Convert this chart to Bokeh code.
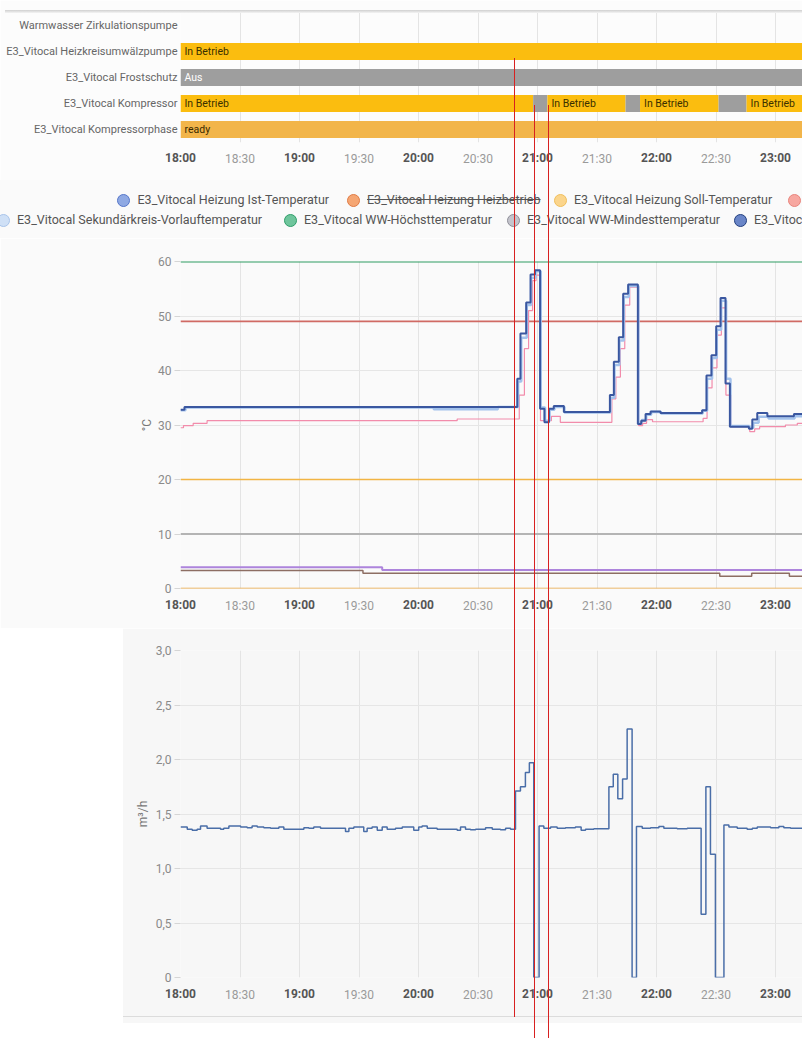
from bokeh.plotting import figure
from bokeh.layouts import column
from bokeh.models import (Range1d, LinearAxis, FixedTicker, Grid, ColumnDataSource, Div)
from bokeh.core.properties import value
from bokeh.embed import file_html
from bokeh.resources import INLINE

FONT = "Roboto"
K = 30 / 59.5          # minutes per pixel on the shared time scale
X_END = 622 * K        # right edge of the visible window (minutes after 18:00)
FRAME_LEFT = 180       # pixel where 18:00 sits

# ---------------- time axis (minutes after 18:00) ----------------
hour_ticks = [0, 60, 120, 180, 240, 300]
hour_labels = ["18:00", "19:00", "20:00", "21:00", "22:00", "23:00"]
half_ticks = [30, 90, 150, 210, 270]
half_labels = ["18:30", "19:30", "20:30", "21:30", "22:30"]

# ---------------- state timeline ----------------
state_rows = ["Warmwasser Zirkulationspumpe", "E3_Vitocal Heizkreisumwälzpumpe",
              "E3_Vitocal Frostschutz", "E3_Vitocal Kompressor", "E3_Vitocal Kompressorphase"]
seg_row = [1, 2, 3, 3, 3, 3, 3, 3, 3, 4]
seg_start = [0, 0, 0, 177.8, 185.0, 224.4, 231.7, 271.3, 285.4, 0]
seg_end = [330, 330, 177.8, 185.0, 224.4, 231.7, 271.3, 285.4, 330, 330]
seg_state = ["In Betrieb", "Aus", "In Betrieb", "Aus", "In Betrieb", "Aus",
             "In Betrieb", "Aus", "In Betrieb", "ready"]
state_color = {"In Betrieb": "#fbbd0f", "Aus": "#9e9e9e", "ready": "#f2b54a"}
state_text = {"In Betrieb": "#3a3000", "Aus": "#ffffff", "ready": "#3a2a00"}

# ---------------- temperatures (°C) ----------------
vl_t = [0, 2, 169.8, 171.4, 174.3, 176.5, 178.7, 181.3, 183.5, 185.8,
        188.2, 193.3, 216.5, 218.5, 221.0, 223.2, 225.7, 230.6, 232.3, 234.5,
        237.0, 242.0, 263.0, 265.2, 267.7, 270.1, 272.3, 274.8, 277.0, 286.6,
        288.3, 290.8, 295.9, 309.3, 314]
vl_v = [32.8, 33.3, 38.5, 46.8, 52.5, 57.6, 58.4, 33.0, 30.5, 33.0,
        33.5, 32.4, 35.5, 41.6, 46.1, 54.1, 55.8, 30.2, 30.8, 32.0,
        32.5, 32.2, 32.7, 39.1, 42.8, 48.1, 53.3, 37.6, 29.7, 29.3,
        31.0, 32.2, 31.6, 32.0, 32.0]
sek_t = [0, 2.5, 127.7, 160.0, 170.2, 171.8, 174.6, 176.8, 179.0, 181.6,
         183.8, 186.1, 188.5, 193.6, 216.8, 218.8, 221.3, 223.5, 226.0, 230.9,
         232.6, 234.8, 237.3, 242.3, 263.3, 265.5, 268.0, 270.4, 272.6, 275.1,
         277.3, 286.9, 288.8, 291.5, 296.5, 309.6, 314]
sek_v = [32.7, 33.2, 32.9, 33.3, 38.0, 46.0, 52.0, 57.0, 58.2, 33.2,
         30.8, 32.8, 33.3, 32.3, 35.0, 41.0, 45.5, 53.5, 55.5, 30.4,
         30.9, 31.9, 32.4, 32.1, 32.6, 38.5, 42.3, 47.5, 52.8, 38.5,
         29.8, 29.5, 30.4, 31.5, 31.2, 31.6, 31.6]
pink_t = [0, 1.5, 6.4, 13.4, 139.5, 170.8, 173.4, 175.5, 177.5, 179.3,
          181.5, 187.0, 191.5, 217.5, 219.5, 221.8, 224.0, 226.5, 231.0, 233.0,
          235.0, 238.0, 263.5, 265.5, 268.0, 270.5, 272.7, 275.0, 277.5, 287.0,
          289.5, 292.0, 305.0, 311.0, 314]
pink_v = [29.5, 29.9, 30.3, 30.8, 31.1, 35.5, 44.0, 51.0, 56.5, 57.5,
          30.8, 31.6, 30.5, 34.8, 38.8, 44.0, 52.0, 55.3, 29.9, 30.3,
          31.0, 30.6, 31.2, 36.8, 40.5, 46.5, 51.5, 35.5, 29.7, 28.8,
          29.3, 29.7, 30.0, 30.3, 30.3]
const_t = [0, 314]
ww_max_v = [60, 60]
red_v = [49, 49]
soll_v = [20, 20]
ww_min_v = [10, 10]
zero_v = [0, 0]
purple_t = [0, 101.7, 314]
purple_v = [3.9, 3.4, 3.4]
brown_t = [0, 92, 271.9, 288, 307, 314]
brown_v = [3.3, 2.8, 2.26, 2.8, 2.26, 2.26]
temp_ticks = [0, 10, 20, 30, 40, 50, 60]

# ---------------- flow (m³/h) ----------------
flow_t = [0, 3.4, 5.9, 8.4, 10.1, 13.4, 20.2, 21.8, 24.4, 30.3,
          33.6, 36.1, 38.7, 42.0, 45.4, 49.6, 52.1, 62.2, 64.7, 67.2,
          70.6, 83.2, 84.9, 87.4, 92.4, 94.1, 96.6, 99.2, 101.7, 104.2,
          108.4, 111.8, 117.6, 120.1, 121.8, 124.4, 129.4, 134.4, 139.5, 141.2,
          143.7, 146.2, 148.8, 153.8, 157.2, 161.3, 163.9, 166.4, 168.9, 171.4,
          173.9, 175.9, 178.1, 180.8, 183.2, 186.6, 189.9, 194.1, 199.1, 202.0,
          204.2, 208.4, 216.0, 218.2, 220.5, 222.9, 225.2, 227.7, 229.9, 232.8,
          237.0, 241.2, 243.7, 250.4, 255.5, 262.5, 264.9, 267.2, 269.7, 274.0,
          276.5, 280.7, 285.7, 288.3, 290.8, 297.5, 301.7, 304.2, 307.6, 314]
flow_v = [1.38, 1.36, 1.35, 1.36, 1.39, 1.37, 1.36, 1.37, 1.39, 1.38,
          1.375, 1.39, 1.38, 1.375, 1.37, 1.38, 1.36, 1.375, 1.37, 1.38,
          1.37, 1.34, 1.37, 1.38, 1.34, 1.37, 1.38, 1.35, 1.38, 1.36,
          1.37, 1.38, 1.35, 1.38, 1.39, 1.37, 1.36, 1.36, 1.35, 1.38,
          1.36, 1.355, 1.36, 1.375, 1.36, 1.355, 1.37, 1.36, 1.71, 1.75,
          1.88, 1.97, 0.0, 1.39, 1.37, 1.38, 1.37, 1.375, 1.38, 1.35,
          1.36, 1.365, 1.75, 1.865, 1.64, 1.82, 2.28, 0.0, 1.385, 1.37,
          1.375, 1.385, 1.37, 1.365, 1.37, 0.58, 1.75, 1.13, 0.0, 1.40,
          1.38, 1.37, 1.36, 1.37, 1.38, 1.375, 1.385, 1.375, 1.37, 1.37]
flow_ticks = [0, 0.5, 1.0, 1.5, 2.0, 2.5, 3.0]
flow_tick_labels = ["0", "0,5", "1,0", "1,5", "2,0", "2,5", "3,0"]

# ---------------- legend ----------------
leg_names = ["E3_Vitocal Heizung Ist-Temperatur", "E3_Vitocal Heizung Heizbetrieb",
             "E3_Vitocal Heizung Soll-Temperatur", "",
             "E3_Vitocal Sekundärkreis-Vorlauftemperatur", "E3_Vitocal WW-Höchsttemperatur",
             "E3_Vitocal WW-Mindesttemperatur", "E3_Vitoc"]
leg_fill = ["#8fa9e3", "#f5a673", "#fbd58c", "#f7a7a0", "#cfe0f6", "#6fc59c", "#c4c4cc", "#6a86c8"]
leg_line = ["#5676c9", "#e07b45", "#f0bf5c", "#e8847c", "#a9c4ea", "#2f9e69", "#8e8e98", "#23407f"]
leg_hidden = [False, True, False, False, False, False, False, False]

# red marker lines drawn onto the screenshot (minutes after 18:00, page-y extent)
marker_t = [168.4, 178.7, 185.5]
marker_y0 = [58, 105, 105]
marker_y1 = [1017, 1038, 1038]

RED = "#d82020"
BG = "#fafafa"


def base_fig(height, top, bottom, y_range, bg=BG):
    p = figure(width=802, height=height, x_range=Range1d(0, X_END), y_range=y_range,
               output_backend="svg", toolbar_location=None,
               x_axis_type=None, y_axis_type=None,
               min_border_left=FRAME_LEFT, min_border_right=0,
               min_border_top=top, min_border_bottom=bottom)
    p.outline_line_color = None
    p.background_fill_color = bg
    p.border_fill_color = bg
    p.add_layout(Grid(dimension=0, ticker=FixedTicker(ticks=sorted(hour_ticks + half_ticks)),
                      grid_line_color="#e4e4e4"))
    return p


def time_axes(p, standoff):
    common = dict(major_tick_out=0, major_tick_in=0, axis_line_color=None,
                  major_label_text_font=FONT, major_label_text_font_size="12px")
    ax_h = LinearAxis(ticker=FixedTicker(ticks=hour_ticks),
                      major_label_overrides=dict(zip(hour_ticks, hour_labels)),
                      major_label_standoff=standoff, major_label_text_color="#555555",
                      major_label_text_font_style="bold", **common)
    ax_m = LinearAxis(ticker=FixedTicker(ticks=half_ticks),
                      major_label_overrides=dict(zip(half_ticks, half_labels)),
                      major_label_standoff=-16, major_label_text_color="#9a9a9a", **common)
    p.add_layout(ax_h, "below")
    p.add_layout(ax_m, "below")


def y_axis(p, ticks, label, label_standoff, overrides=None):
    ax = LinearAxis(ticker=FixedTicker(ticks=ticks), axis_label=label,
                    major_tick_out=6, major_tick_in=0, major_tick_line_color="#d5d5d5",
                    axis_line_color=None, major_label_standoff=3,
                    major_label_text_font=FONT, major_label_text_font_size="12px",
                    major_label_text_color="#8a8a8a",
                    axis_label_text_font=FONT, axis_label_text_font_size="12px",
                    axis_label_text_font_style="normal", axis_label_text_color="#777777",
                    axis_label_standoff=label_standoff)
    if overrides:
        ax.major_label_overrides = overrides
    p.add_layout(ax, "left")
    p.add_layout(Grid(dimension=1, ticker=FixedTicker(ticks=ticks), grid_line_color="#e6e6e6"))


# ================= 1) state timeline =================
p1 = base_fig(180, 12, 38, Range1d(4.5, -0.5), bg="#fcfcfc")
rows_ax = LinearAxis(ticker=FixedTicker(ticks=list(range(len(state_rows)))),
                     major_label_overrides={i: n for i, n in enumerate(state_rows)},
                     major_tick_out=0, major_tick_in=0, axis_line_color=None,
                     major_label_standoff=3, major_label_text_font=FONT,
                     major_label_text_font_size="11px", major_label_text_color="#666666")
p1.add_layout(rows_ax, "left")
seg_src = ColumnDataSource(dict(
    y=seg_row, left=seg_start, right=seg_end,
    color=[state_color[s] for s in seg_state],
    tcolor=[state_text[s] for s in seg_state],
    label=[s if (e - b) > 20 else "" for s, b, e in zip(seg_state, seg_start, seg_end)]))
p1.hbar(y="y", left="left", right="right", height=0.66, fill_color="color",
        line_color=None, source=seg_src)
p1.text(x="left", y="y", text="label", source=seg_src, x_offset=4,
        text_baseline="middle", text_font=value(FONT), text_font_size="10.5px",
        text_color="tcolor")
time_axes(p1, 8)

# ================= 2) legend strip (HTML) + screenshot marker overlay =================
LEG_TOP = 180
leg_cx = [123.5, 353, 560, 794, 3, 290, 513, 740]
leg_cy = [20, 20, 20, 20, 40, 40, 40, 40]
items = []
for name, fc, lc, hid, cx, cy in zip(leg_names, leg_fill, leg_line, leg_hidden, leg_cx, leg_cy):
    items.append(
        f'<span style="position:absolute;left:{cx - 6.5}px;top:{cy - 6.5}px;width:13px;'
        f'height:13px;border-radius:50%;background:{fc};border:1px solid {lc};'
        f'box-sizing:border-box"></span>')
    if name:
        deco = "text-decoration:line-through;" if hid else ""
        items.append(
            f'<span style="position:absolute;left:{cx + 14}px;top:{cy - 8}px;'
            f'line-height:16px;font-size:12.5px;color:#555555;white-space:nowrap;{deco}">'
            f'{name}</span>')
overlay = [
    # header shadow of the state panel
    f'<div style="position:absolute;left:5px;top:{10 - LEG_TOP}px;width:797px;height:3px;'
    f'background:linear-gradient(#cfcfcf,#f4f4f4);z-index:40"></div>',
    # white margin left of / below the flow panel
    f'<div style="position:absolute;left:0;top:{628 - LEG_TOP}px;width:123px;height:410px;'
    f'background:#ffffff;z-index:40"></div>',
    f'<div style="position:absolute;left:0;top:{1023 - LEG_TOP}px;width:802px;height:15px;'
    f'background:#ffffff;z-index:40"></div>',
    f'<div style="position:absolute;left:123px;top:{1016 - LEG_TOP}px;width:679px;height:1px;'
    f'background:#dcdcdc;z-index:41"></div>',
]
for t, y0, y1 in zip(marker_t, marker_y0, marker_y1):
    x = round(FRAME_LEFT + t / K)
    overlay.append(
        f'<div style="position:absolute;left:{x}px;top:{y0 - LEG_TOP}px;width:0;'
        f'height:{y1 - y0}px;border-left:1px solid {RED};z-index:50"></div>')
html = (
    '<div style="position:relative;width:802px;height:58px;overflow:visible;margin:0;padding:0">'
    f'<div style="position:absolute;left:0;top:0;width:802px;height:58px;overflow:hidden;'
    f'background:{BG};font-family:Roboto,sans-serif">' + "".join(items) + '</div>'
    + "".join(overlay) + '</div>')
legend_div = Div(text=html, width=802, height=58, margin=0,
                 styles={"overflow": "visible", "z-index": "10"})

# ================= 3) temperatures =================
p2 = base_fig(390, 23, 40, Range1d(0, 60))
y_axis(p2, temp_ticks, "°C", 1)
p2.step(const_t, zero_v, mode="after", line_color="#e6a23c", line_width=1.5)
p2.step(brown_t, brown_v, mode="after", line_color="#8d6e63", line_width=1.5)
p2.step(purple_t, purple_v, mode="after", line_color="#ad84dc", line_width=2)
p2.step(const_t, ww_min_v, mode="after", line_color="#b4b4b4", line_width=2)
p2.step(const_t, soll_v, mode="after", line_color="#f2b544", line_width=1.5)
p2.step(const_t, red_v, mode="after", line_color="#d06a64", line_width=1.8)
p2.step(const_t, ww_max_v, mode="after", line_color="#2e9b62", line_width=2)
p2.step(pink_t, pink_v, mode="after", line_color="#f28cab", line_width=1.2)
p2.step(sek_t, sek_v, mode="after", line_color="#a3c2ec", line_width=2.5)
p2.step(vl_t, vl_v, mode="after", line_color="#3a57a0", line_width=2)
time_axes(p2, 9)

# ================= 4) flow =================
p3 = base_fig(410, 22, 61, Range1d(0, 3.0), bg="#f7f7f7")
y_axis(p3, flow_ticks, "m³/h", 3, dict(zip(flow_ticks, flow_tick_labels)))
p3.step(flow_t, flow_v, mode="after", line_color="#4a6ea8", line_width=1.5)
time_axes(p3, 9)

layout = column(p1, legend_div, p2, p3, spacing=0)
open("out.html", "w").write(file_html(layout, INLINE))
